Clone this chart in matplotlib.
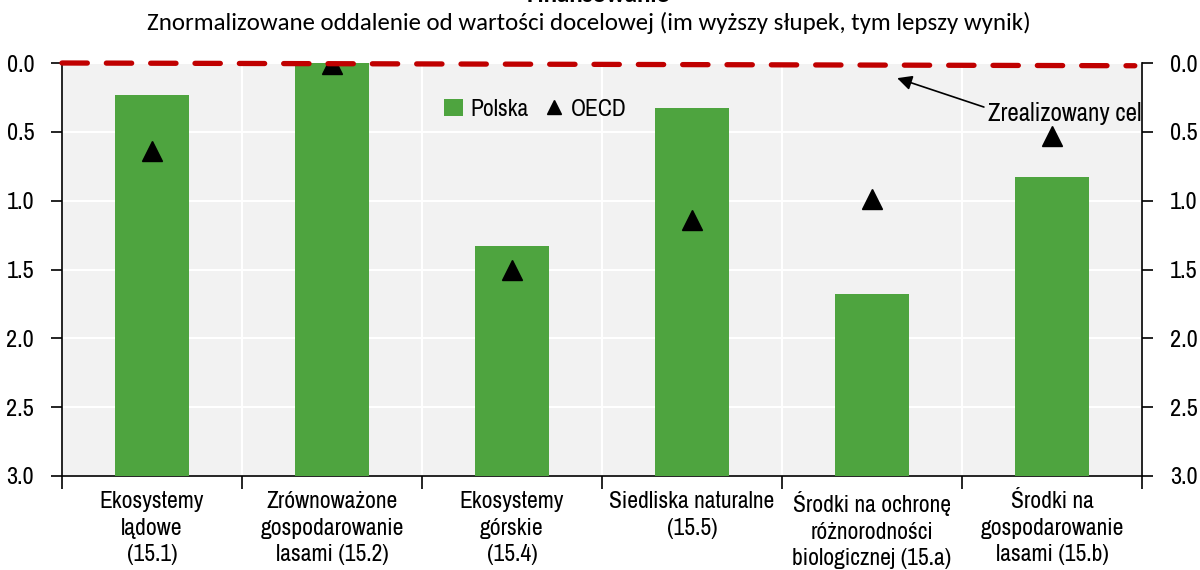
import matplotlib
matplotlib.use("Agg")
import matplotlib.pyplot as plt
import numpy as np

categories = ["Ekosystemy\nlądowe\n(15.1)",
              "Zrównoważone\ngospodarowanie\nlasami (15.2)",
              "Ekosystemy\ngórskie\n(15.4)",
              "Siedliska naturalne\n(15.5)",
              "Środki na ochronę\nróżnorodności\nbiologicznej (15.a)",
              "Środki na\ngospodarowanie\nlasami (15.b)"]
polska = [0.23, 0.0, 1.33, 0.33, 1.68, 0.83]
oecd = [0.64, 0.01, 1.50, 1.14, 0.99, 0.53]
target_line = [0.0, 0.02]
yticks = [0.0, 0.5, 1.0, 1.5, 2.0, 2.5, 3.0]
ybase = 3.0

plt.rcParams['font.family'] = ['Archivo Narrow', 'Liberation Sans', 'DejaVu Sans']

fig = plt.figure(figsize=(12, 5.7), dpi=100)
ax = fig.add_axes([62/1200, 1-476/570, (1142-62)/1200, (476-63)/570])
ax.set_facecolor('#F2F2F2')

x = np.arange(len(categories))
bars = ax.bar(x, [v - ybase for v in polska], bottom=ybase, width=0.41, color='#4EA43F',
              zorder=3, label='Polska')
tri, = ax.plot(x, oecd, linestyle='none', marker='^', markersize=14, color='black', zorder=4,
               label='OECD')
ax.plot([-0.5, 5.46], target_line, color='#C00000', linewidth=3.8, dashes=(4.8, 3.6),
        dash_capstyle='round', zorder=5, clip_on=False)

ax.set_xlim(-0.5, 5.5)
ax.set_ylim(3.0, 0.0)
ax.set_yticks(yticks)
ax.set_yticklabels([f"{v:.1f}" for v in yticks])
ax.set_xticks(np.arange(-0.5, 6, 1.0))
ax.set_xticklabels([])
ax.set_xticks(x, minor=True)
ax.set_xticklabels(categories, minor=True, fontsize=17, linespacing=1.32)
ax.tick_params(axis='x', which='minor', length=0, pad=11)
ax.tick_params(axis='x', which='major', length=9, width=1.2, direction='out')
ax.tick_params(axis='y', length=8, width=1.2, labelsize=17.5, pad=12,
               left=True, right=True, labelleft=True, labelright=True)
ax.grid(True, which='major', color='white', linewidth=1.5, zorder=1)
ax.set_axisbelow(True)
ax.spines['top'].set_visible(False)
for s in ['left', 'right', 'bottom']:
    ax.spines[s].set_linewidth(1.2)

leg = ax.legend(handles=[bars, tri], loc='center left', bbox_to_anchor=(0.345, 0.888),
                ncol=2, frameon=False, fontsize=17, handlelength=0.8, handletextpad=0.3,
                columnspacing=0.7, markerscale=0.75, borderaxespad=0)

ax.annotate("Zrealizowany cel", xy=(4.14, 0.11), xytext=(5.5, 0.37),
            ha='right', va='center', fontsize=18,
            arrowprops=dict(arrowstyle='-|>', color='black', lw=1.2, mutation_scale=22,
                            shrinkA=0, shrinkB=0, relpos=(-0.03, 0.8)))

fig.text(598/1200, 1-2.5/570, "Finansowanie", ha='center', va='baseline',
         fontsize=18, fontweight='bold', family=['Carlito', 'DejaVu Sans'])
fig.text(589/1200, 1-23/570,
         "Znormalizowane oddalenie od wartości docelowej (im wyższy słupek, tym lepszy wynik)",
         ha='center', va='center', fontsize=17.9, family=['Carlito', 'DejaVu Sans'])

fig.savefig('out.png', dpi=100)
